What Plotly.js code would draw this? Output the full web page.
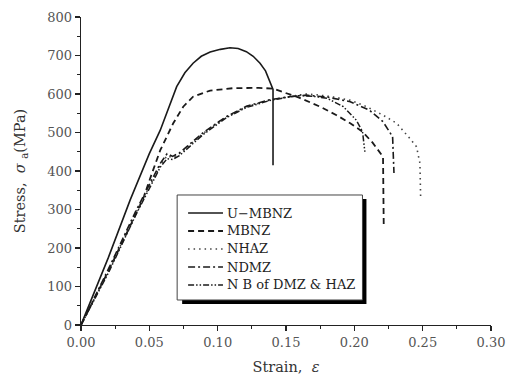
<!DOCTYPE html>
<html><head><meta charset="utf-8">
<script src="https://cdn.plot.ly/plotly-3.0.1.min.js"></script>
<style>html,body{margin:0;padding:0;background:#fff}#c{width:507px;height:383px}</style>
</head><body><div id="c"></div>
<script>
const seriesNames = ["U\u2212MBNZ", "MBNZ", "NHAZ", "NDMZ", "N B of DMZ & HAZ"];

const uStrain = [0, 0.02, 0.036, 0.05, 0.058, 0.064, 0.070, 0.076, 0.082, 0.088, 0.0945, 0.102, 0.109, 0.115, 0.121, 0.126, 0.131, 0.135, 0.138, 0.1405, 0.1405];
const uStress = [0, 175, 325, 445, 506, 565, 619, 655, 680, 698, 709, 716, 720, 718, 710, 698, 680, 660, 636, 612, 415];

const mStrain = [0, 0.02, 0.035, 0.0457, 0.052, 0.058, 0.0675, 0.0748, 0.082, 0.0945, 0.111, 0.13, 0.1405, 0.148, 0.16, 0.175, 0.187, 0.197, 0.206, 0.2135, 0.221, 0.2215];
const mStress = [0, 140, 250, 330, 395, 454, 524, 567, 593, 609, 615, 616, 614, 605, 590, 567, 545, 524, 502, 473, 437, 260];

const hStrain = [0, 0.02, 0.04, 0.05, 0.058, 0.063, 0.067, 0.072, 0.08, 0.0895, 0.1, 0.1067, 0.121, 0.138, 0.155, 0.165, 0.1725, 0.185, 0.197, 0.209, 0.221, 0.231, 0.2405, 0.2455, 0.248, 0.2485];
const hStress = [0, 140, 290, 360, 415, 440, 435, 445, 470, 498, 525, 541, 567, 584, 595, 600, 598, 592, 584, 567, 545, 524, 485, 463, 420, 333];

const dStrain = [0, 0.02, 0.04, 0.05, 0.058, 0.063, 0.067, 0.072, 0.08, 0.0895, 0.1, 0.1067, 0.121, 0.138, 0.155, 0.165, 0.18, 0.197, 0.211, 0.221, 0.228, 0.229];
const dStress = [0, 145, 295, 365, 420, 445, 438, 447, 472, 500, 526, 542, 568, 585, 594, 597, 592, 580, 558, 528, 489, 395];

const nStrain = [0, 0.02, 0.04, 0.05, 0.058, 0.063, 0.067, 0.072, 0.08, 0.0895, 0.1, 0.1067, 0.121, 0.138, 0.15, 0.16, 0.17, 0.18, 0.192, 0.2015, 0.206, 0.2077];
const nStress = [0, 135, 285, 355, 410, 432, 430, 440, 466, 495, 522, 539, 565, 583, 591, 596, 594, 589, 567, 532, 502, 450];

const xTicks = [0, 0.05, 0.10, 0.15, 0.20, 0.25, 0.30];
const xTickText = ["0.00", "0.05", "0.10", "0.15", "0.20", "0.25", "0.30"];
const yTicks = [0, 100, 200, 300, 400, 500, 600, 700, 800];

const ink = "#1a1a1a";
const styles = [
  {color: ink, width: 1.6, dash: "solid"},
  {color: ink, width: 1.8, dash: "6px,4px"},
  {color: "#444", width: 1.6, dash: "1.5px,4px"},
  {color: ink, width: 1.6, dash: "7px,3px,2px,3px"},
  {color: ink, width: 1.5, dash: "6px,2px,1.5px,2px,1.5px,2px"}
];
const xs = [uStrain, mStrain, hStrain, dStrain, nStrain];
const ys = [uStress, mStress, hStress, dStress, nStress];
const traces = seriesNames.map((n, i) => ({x: xs[i], y: ys[i], name: n, mode: "lines", line: styles[i]}));

const fontFam = "DejaVu Serif, Liberation Serif, serif";

// legend drawn in paper coordinates
const legX0 = 0.2612, legX1 = 0.3463, legTextX = 0.3511;
const legY = [0.3636, 0.3052, 0.2468, 0.1883, 0.1299];
const shapes = [
  {type: "rect", xref: "paper", yref: "paper", x0: 0.2467, x1: 0.6962, y0: 0.0682, y1: 0.4091,
   fillcolor: "#000", line: {width: 0}, layer: "above"},
  {type: "rect", xref: "paper", yref: "paper", x0: 0.2345, x1: 0.6865, y0: 0.0812, y1: 0.4221,
   fillcolor: "#fff", line: {color: "#444", width: 1}, layer: "above"}
];
const annotations = [];
seriesNames.forEach((n, i) => {
  shapes.push({type: "line", xref: "paper", yref: "paper", x0: legX0, x1: legX1, y0: legY[i], y1: legY[i],
               line: styles[i], layer: "above"});
  annotations.push({xref: "paper", yref: "paper", x: legTextX, y: legY[i], xanchor: "left", yanchor: "middle",
                    text: n, showarrow: false, font: {family: fontFam, size: 13, color: "#222"}});
});

const layout = {
  width: 507, height: 383,
  margin: {l: 80.5, r: 15.5, t: 17, b: 58},
  paper_bgcolor: "#fff", plot_bgcolor: "#fff",
  font: {family: fontFam, color: "#333", size: 13},
  showlegend: false,
  xaxis: {range: [0, 0.30], tickvals: xTicks, ticktext: xTickText, showgrid: false, zeroline: false,
          showline: true, linecolor: "#222", linewidth: 1.3, ticks: "outside", ticklen: 5, tickcolor: "#222", tickwidth: 1.3,
          minor: {dtick: 0.025, ticks: "outside", ticklen: 3, tickcolor: "#222", tickwidth: 1.2, showgrid: false},
          tickfont: {family: fontFam, size: 13, color: "#555"},
          title: {text: "Strain,  <i>ε</i>", font: {family: fontFam, size: 14.5, color: "#333"}, standoff: 13}},
  yaxis: {range: [0, 800], tickvals: yTicks, showgrid: false, zeroline: false,
          showline: true, linecolor: "#222", linewidth: 1.3, ticks: "outside", ticklen: 5, tickcolor: "#222", tickwidth: 1.3,
          minor: {dtick: 50, ticks: "outside", ticklen: 3, tickcolor: "#222", tickwidth: 1.2, showgrid: false},
          tickfont: {family: fontFam, size: 13, color: "#555"},
          title: {text: "Stress,  <i>σ</i> <sub>a</sub>(MPa)", font: {family: fontFam, size: 14.5, color: "#333"}, standoff: 18}},
  shapes: shapes,
  annotations: annotations
};
Plotly.newPlot("c", traces, layout, {displayModeBar: false, staticPlot: true});
</script></body></html>
